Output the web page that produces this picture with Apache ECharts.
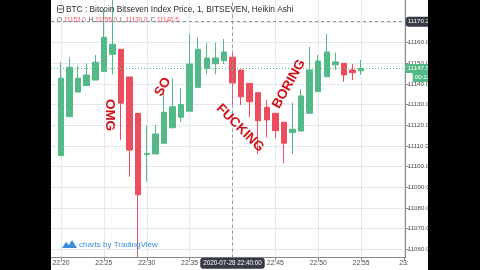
<!DOCTYPE html>
<html><head><meta charset="utf-8">
<script src="https://cdn.jsdelivr.net/npm/echarts@6/dist/echarts.min.js"></script>
<style>html,body{margin:0;padding:0;background:#000;}#c{width:480px;height:270px;}</style>
</head><body><div id="c"></div>
<script>
// ---- data (Heikin Ashi, 1-minute candles) ----
const times = ['22:20','22:21','22:22','22:23','22:24','22:25','22:26','22:27','22:28','22:29',
  '22:30','22:31','22:32','22:33','22:34','22:35','22:36','22:37','22:38','22:39',
  '22:40','22:41','22:42','22:43','22:44','22:45','22:46','22:47','22:48','22:49',
  '22:50','22:51','22:52','22:53','22:54','22:55'];
const opens  = [11105.3,11124.2,11136.1,11139.2,11141.9,11146.1,11154.4,11156.8,11143.4,11125.8,
  11105.8,11106.1,11111.3,11118.8,11123.9,11126.8,11138.4,11147.6,11149.8,11151.3,
  11153.0,11146.8,11140.3,11135.8,11128.7,11125.8,11121.5,11116.4,11117.2,11125.8,
  11136.3,11143.5,11149.3,11150.0,11146.8,11146.4];
const closes = [11142.8,11148.1,11142.8,11144.4,11150.5,11162.6,11159.2,11130.7,11108.0,11086.4,
  11106.3,11115.8,11126.3,11129.0,11130.0,11149.7,11156.8,11152.6,11152.6,11155.5,
  11140.5,11133.8,11131.4,11122.2,11122.6,11117.4,11111.3,11118.1,11134.2,11146.8,
  11151.1,11155.5,11150.7,11144.4,11145.5,11147.5];
const lows   = [11105.3,11124.2,11136.1,11139.2,11141.9,11146.1,11144.7,11112.9,11095.1,11056.0,
  11092.7,11106.1,11111.3,11118.8,11121.7,11126.8,11138.4,11144.8,11144.7,11149.7,
  11130.0,11129.8,11123.9,11106.1,11114.2,11113.7,11101.6,11106.1,11117.2,11125.8,
  11136.3,11143.5,11146.8,11141.1,11141.9,11144.4];
const highs  = [11150.5,11152.9,11148.9,11150.0,11154.0,11176.5,11182.0,11156.8,11143.4,11125.8,
  11119.8,11120.1,11137.0,11142.8,11137.9,11164.2,11162.6,11160.0,11160.0,11161.8,
  11155.0,11146.8,11140.3,11135.8,11132.3,11125.8,11121.5,11130.9,11137.4,11158.1,
  11154.0,11164.2,11155.2,11150.0,11149.7,11151.6];
const xTickValues = [0,5,10,15,20,25,30,35,40];
const xTickLabels = ['22:20','22:25','22:30','22:35','22:40','22:45','22:50','22:55','23:'];
const priceTicks = [11060,11070,11080,11090,11100,11110,11120,11130,11140,11150,11160,11170];
const lastPrice = 11147.5;
const countdown = '00:13';
const crossIndex = 20;
const crossPrice = 11170.2;
const crossDate = '2020-07-28 22:40:00';
const title = 'BTC : Bitcoin Bitseven Index Price, 1, BITSEVEN, Heikin Ashi';
const notes = ['OMG','SO','FUCKING','BORING'];

// ---- chart ----
const UP = '#53b987', DOWN = '#eb4d5c';
const data = times.map((t, i) => [i, opens[i], closes[i], lows[i], highs[i]]);
const chart = echarts.init(document.getElementById('c'));
const font = 'Liberation Sans';
const ohlc = [['O', opens[crossIndex]], ['H', highs[crossIndex]], ['L', lows[crossIndex]], ['C', closes[crossIndex]]];
const ohlcText = ohlc.map(p => '{k|' + p[0] + '}{v|' + p[1].toFixed(1) + '}').join('');
const noteStyle = {fill: '#d0111b', font: 'bold 13.5px "Liberation Sans"', align: 'center', verticalAlign: 'middle'};

chart.setOption({
  animation: false,
  backgroundColor: '#ffffff',
  textStyle: {fontFamily: font},
  grid: {left: 51, right: 74.3, top: 0, bottom: 12.3},
  axisPointer: {triggerTooltip: false},
  xAxis: {
    type: 'value', min: -1.167, max: 40.2,
    axisLine: {show: true, onZero: false, lineStyle: {color: '#8a8a8a'}},
    axisTick: {show: true, customValues: xTickValues, length: 3, lineStyle: {color: '#8a8a8a'}},
    axisLabel: {customValues: xTickValues, formatter: v => xTickLabels[Math.round(v / 5)],
      fontSize: 6.8, color: '#4a4a4a', margin: 2, fontFamily: font},
    splitLine: {show: true, lineStyle: {color: '#e3eaef', width: 1}},
    axisPointer: {show: true, value: crossIndex, status: 'show', snap: false, type: 'line',
      lineStyle: {color: '#8f939c', type: [3, 3], width: 1},
      label: {show: true, formatter: () => crossDate, backgroundColor: '#363a45', color: '#fff',
        fontSize: 6.3, fontFamily: font, padding: [3, 3, 2, 3], margin: 0}}
  },
  yAxis: {
    type: 'value', position: 'right', min: 11055.88, max: 11180.68, scale: true,
    axisLine: {show: true, onZero: false, lineStyle: {color: '#8a8a8a'}},
    axisTick: {show: true, customValues: priceTicks, length: 3, lineStyle: {color: '#8a8a8a'}},
    axisLabel: {customValues: priceTicks, formatter: v => v.toFixed(1), fontSize: 6.2,
      color: '#4a4a4a', margin: 2, fontFamily: font},
    splitLine: {show: true, lineStyle: {color: '#e3eaef', width: 1}},
    axisPointer: {show: true, value: crossPrice, status: 'show', snap: false, type: 'line',
      lineStyle: {color: '#8f939c', type: [3, 3], width: 1},
      label: {show: true, formatter: () => crossPrice.toFixed(1), backgroundColor: '#363a45', color: '#fff',
        fontSize: 6.2, fontFamily: font, padding: [2, 3, 2, 2], margin: 0}}
  },
  series: [{
    type: 'candlestick', data: data, encode: {x: 0, y: [1, 2, 3, 4]},
    barWidth: 6, clip: true,
    itemStyle: {color: UP, color0: DOWN, borderColor: UP, borderColor0: DOWN, borderWidth: 1},
    markLine: {
      silent: true, symbol: 'none', animation: false,
      lineStyle: {color: UP, type: [1, 2], width: 1},
      label: {show: true, position: 'end', distance: 0,
        formatter: '{e|}\n{a|' + lastPrice.toFixed(1) + '}\n{p|}{b|' + countdown + '}',
        rich: {
          e: {height: 9, fontSize: 6.2},
          a: {backgroundColor: UP, color: '#fff', fontSize: 6.2, fontFamily: font, padding: [1, 3, 1, 2], height: 7, lineHeight: 9},
          p: {width: 7, fontSize: 6.2},
          b: {backgroundColor: UP, color: '#fff', fontSize: 6.2, fontFamily: font, padding: [1, 3, 1, 2], height: 7, lineHeight: 9}
        }},
      data: [{yAxis: lastPrice}]
    }
  }],
  graphic: [
    // header
    {type: 'rect', shape: {x: 57.5, y: 5.5, width: 6, height: 7, r: 1}, style: {fill: 'none', stroke: '#555', lineWidth: 1}, z: 50},
    {type: 'line', shape: {x1: 58.5, y1: 9, x2: 62.5, y2: 9}, style: {stroke: '#555', lineWidth: 1}, z: 50},
    {type: 'text', x: 66, y: 9.5, z: 50, style: {text: title, fill: '#2a2a2a', font: '8.3px "Liberation Sans"', verticalAlign: 'middle'}},
    {type: 'text', x: 57, y: 20, z: 50, style: {text: ohlcText, verticalAlign: 'middle', fontFamily: font,
      rich: {k: {fill: '#555', fontSize: 6.3, padding: [0, 2, 0, 0]}, v: {fill: DOWN, fontSize: 6.3, padding: [0, 3, 0, 0]}}}},
    // annotations
    {type: 'text', x: 110, y: 115, rotation: -Math.PI / 2, z: 60, style: Object.assign({text: notes[0]}, noteStyle)},
    {type: 'text', x: 163, y: 87, rotation: Math.PI / 3, z: 60, style: Object.assign({text: notes[1]}, noteStyle)},
    {type: 'text', x: 240, y: 128, rotation: -Math.PI / 4, z: 60, style: Object.assign({text: notes[2]}, noteStyle)},
    {type: 'text', x: 289, y: 84, rotation: 1.056, z: 60, style: Object.assign({text: notes[3]}, noteStyle)},
    // TradingView badge
    {type: 'polygon', z: 50, shape: {points: [[62, 248], [66, 242], [69, 245], [72, 240], [77, 248]]}, style: {fill: '#3a8fd9'}},
    {type: 'text', x: 79, y: 244.5, z: 50, style: {text: 'charts by TradingView', fill: '#3a8fd9', font: '8px "Liberation Sans"', verticalAlign: 'middle'}},
    // black side bars
    {type: 'rect', z: 1000, shape: {x: 0, y: 0, width: 51, height: 270}, style: {fill: '#000'}},
    {type: 'rect', z: 1000, shape: {x: 428, y: 0, width: 52, height: 270}, style: {fill: '#000'}}
  ]
});
</script></body></html>
